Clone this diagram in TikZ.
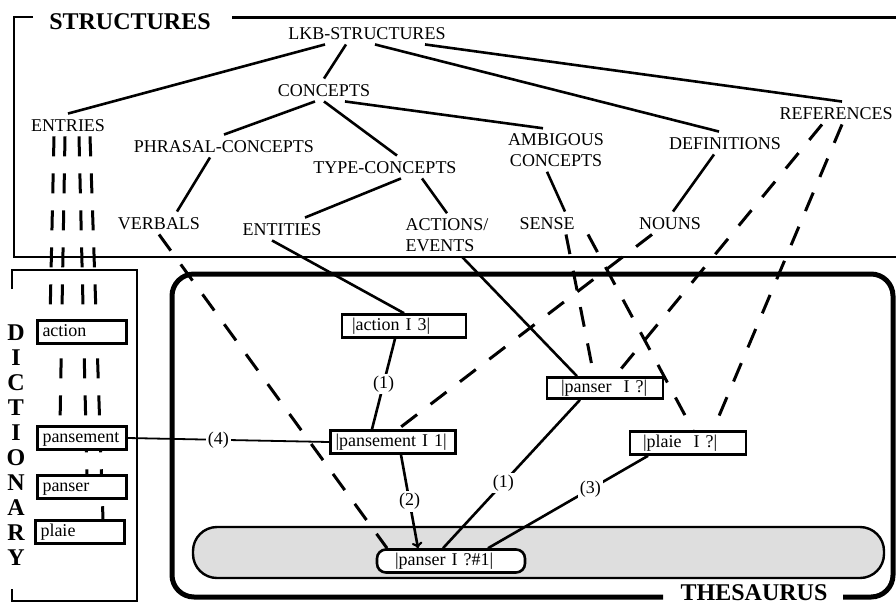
\documentclass[tikz,border=0pt]{standalone}
\usepackage{fontspec}
\setmainfont{Liberation Serif}
\pgfdeclarelayer{frames}
\pgfdeclarelayer{links}
\pgfsetlayers{frames,links,main}
\tikzset{
  lab/.style={font=\fontsize{18}{21}\selectfont, inner xsep=3pt, inner ysep=5pt, text height=12.5pt, text depth=0pt},
  lab2/.style={font=\fontsize{18}{21}\selectfont, inner xsep=3pt, inner ysep=5pt},
  head/.style={font=\fontsize{24}{25}\selectfont\bfseries},
  dictbox/.style={draw, line width=2.4pt, fill=white, font=\fontsize{18}{21}\selectfont, text height=12pt, text depth=4pt, inner xsep=5pt, inner ysep=3.5pt, text width=79pt, align=left},
  thbox/.style={dictbox, line width=2.6pt},
  tree/.style={line width=2.6pt},
  link/.style={line width=2.6pt},
  xref/.style={line width=3pt, dash pattern=on 20pt off 17pt},
  num/.style={font=\fontsize{18}{21}\selectfont, fill=white, inner sep=2pt},
}
\begin{document}
\begin{tikzpicture}[x=1pt, y=-1pt]
    \useasboundingbox (0,0) rectangle (896,611);

    % Frames
    \begin{pgfonlayer}{frames}
      \draw[line width=2.8pt] (33,17) -- (14,17) -- (14,257) -- (896,257);
      \draw[line width=3pt] (232,17) -- (896,17);
      \draw[line width=2.4pt] (12,289) -- (12,270) -- (137,270) -- (137,601) -- (12,601) -- (12,589);
      \draw[line width=5pt, rounded corners=22pt] (663,597) -- (172,597) -- (172,274) -- (893,274) -- (893,597) -- (843,597);
      \draw[line width=2.4pt, fill=black!13, rounded corners=24pt] (193,527) rectangle (884,578);
    \end{pgfonlayer}

    % Headings
    \node[head] (structures) at (130,22) {STRUCTURES};
    \node[head] (thesaurus) at (754,593) {THESAURUS};
    \node[head, align=center] (dictionary) at (16,445) {D\\I\\C\\T\\I\\O\\N\\A\\R\\Y};

    % Structures
    \node[lab] (lkb) at (367,33) {LKB-STRUCTURES};
    \node[lab] (concepts) at (324,90) {CONCEPTS};
    \node[lab] (entries) at (68,125) {ENTRIES};
    \node[lab] (phrasal) at (224,146) {PHRASAL-CONCEPTS};
    \node[lab] (typec) at (385,167) {TYPE-CONCEPTS};
    \node[lab2, align=center] (ambig) at (556,150) {AMBIGOUS\\CONCEPTS};
    \node[lab] (defs) at (725,143) {DEFINITIONS};
    \node[lab] (refs) at (836,113) {REFERENCES};
    \node[lab] (verbals) at (159,223) {VERBALS};
    \node[lab] (entities) at (282,229) {ENTITIES};
    \node[lab2, align=left] (actions) at (447,235) {ACTIONS/\\EVENTS};
    \node[lab] (sense) at (547,223) {SENSE};
    \node[lab] (nouns) at (670,223) {NOUNS};

    % Dictionary
    \node[dictbox] (action) at (82,332) {action};
    \node[dictbox] (pansement) at (82,438) {pansement};
    \node[dictbox] (panser) at (82,487) {panser};
    \node[dictbox] (plaie) at (80,532) {plaie};

    % Thesaurus
    \node[thbox, inner xsep=10pt, text width=104pt] (act3) at (404,326) {|action I 3|};
    \node[thbox, inner xsep=5pt, text width=115pt] (pans1) at (393,442) {|pansement I 1|};
    \node[thbox, inner xsep=14pt, text width=88pt, text height=11pt, text depth=3pt] (panserq) at (605,388) {|panser~ I ?|};
    \node[thbox, inner xsep=13pt, text width=90pt] (plaieq) at (688,443) {|plaie~ I ?|};
    \node[thbox, rounded corners=9pt, inner xsep=18pt, text width=112pt] (panser1) at (451,561) {|panser I ?\#1|};

    \begin{pgfonlayer}{links}
      % tree
      \draw[tree] ([xshift=-42pt]lkb.south) -- (entries.north);
      \draw[tree] ([xshift=-21pt]lkb.south) -- (concepts.north);
      \draw[tree] ([xshift=8pt]lkb.south) -- ([xshift=-6pt]defs.north);
      \draw[tree] ([xshift=58pt]lkb.south) -- ([xshift=6pt]refs.north);
      \draw[tree] ([xshift=-9pt]concepts.south) -- (phrasal.north);
      \draw[tree] (concepts.south) -- ([xshift=12pt]typec.north);
      \draw[tree] ([xshift=21pt]concepts.south) -- ([xshift=-13pt]ambig.north);
      \draw[tree] ([xshift=-14pt]phrasal.south) -- ([xshift=18pt]verbals.north);
      \draw[tree] ([xshift=16pt]typec.south) -- ([xshift=23pt]entities.north);
      \draw[tree] ([xshift=37pt]typec.south) -- (actions.north);
      \draw[tree] ([xshift=-9pt]ambig.south) -- ([xshift=18pt]sense.north);
      \draw[tree] ([xshift=-11pt]defs.south) -- ([xshift=3pt]nouns.north);

      % entries to dictionary
      \draw[xref] ([xshift=-14pt]entries.south) -- ([xshift=-32pt]action.north);
      \draw[xref] ([xshift=-3pt]entries.south) -- ([xshift=-22pt]pansement.north);
      \draw[xref] ([xshift=11pt]entries.south) -- ([xshift=5pt]panser.north);
      \draw[xref] ([xshift=22pt]entries.south) -- ([xshift=23pt]plaie.north);

      % thesaurus links
      \draw[link] ([xshift=-10pt]entities.south) -- (act3.north);
      \draw[link] ([xshift=15pt]actions.south) -- ([xshift=-28pt]panserq.north);
      \draw[link] ([xshift=-9pt]act3.south) -- node[num] {(1)} ([xshift=-21pt]pans1.north);
      \draw[link, ->] ([xshift=8pt]pans1.south) -- node[num] {(2)} ([xshift=-33pt]panser1.north);
      \draw[link] ([xshift=-25pt]panserq.south) -- node[num, pos=0.56] {(1)} ([xshift=-8pt]panser1.north);
      \draw[link] ([xshift=-40pt]plaieq.south) -- node[num, pos=0.36] {(3)} ([xshift=37pt]panser1.north);
      \draw[line width=1.8pt] (pansement.east) -- node[num, pos=0.45] {(4)} (pans1.west);

      % dashed references
      \draw[xref] (verbals.south) -- ([xshift=-64pt]panser1.north);
      \draw[xref] ([xshift=-18pt]nouns.south) -- ([xshift=5pt]pans1.north);
      \draw[xref] ([xshift=19pt]sense.south) -- ([xshift=-11pt]panserq.north);
      \draw[xref] ([xshift=41pt]sense.south) -- ([xshift=5pt]plaieq.north);
      \draw[xref] ([xshift=-14pt]refs.south) -- ([xshift=10pt]panserq.north);
      \draw[xref] ([xshift=6pt]refs.south) -- ([xshift=25pt]plaieq.north);
    \end{pgfonlayer}
\end{tikzpicture}
\end{document}
